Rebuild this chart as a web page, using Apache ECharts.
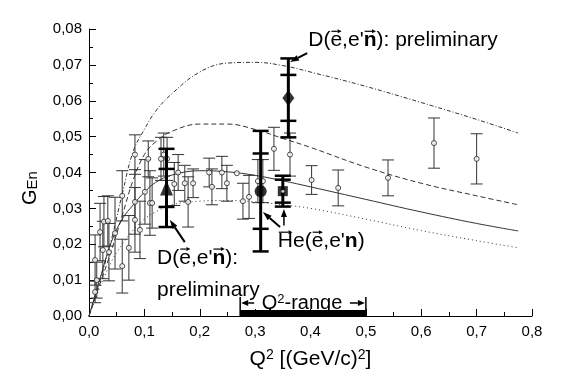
<!DOCTYPE html>
<html>
<head>
<meta charset="utf-8">
<script src="https://cdn.jsdelivr.net/npm/echarts@6/dist/echarts.min.js"></script>
<style>
  html, body { margin: 0; padding: 0; background: #fff; }
  #main { width: 567px; height: 382px; }
</style>
</head>
<body>
<div id="main"></div>
<script>
// theory curves, sampled on one Q2 grid
var q2Grid = [0, 0.02, 0.04, 0.06, 0.08, 0.1, 0.12, 0.15, 0.2, 0.25, 0.3, 0.35, 0.4, 0.5, 0.6, 0.7, 0.775];
var curveDashDot = [0, 0.010, 0.021, 0.034, 0.046, 0.052, 0.057, 0.062, 0.068, 0.0705, 0.0707, 0.0698, 0.068, 0.064, 0.0595, 0.0548, 0.051];
var curveDashed = [0, 0.009, 0.018, 0.028, 0.038, 0.045, 0.0485, 0.0515, 0.0535, 0.0535, 0.052, 0.0495, 0.047, 0.0415, 0.037, 0.0335, 0.031];
var curveSolid = [0, 0.0105, 0.0205, 0.027, 0.031, 0.0345, 0.0372, 0.0393, 0.0405, 0.0402, 0.0392, 0.0377, 0.036, 0.0325, 0.029, 0.0258, 0.0237];
var curveDotted = [0, 0.008, 0.015, 0.020, 0.024, 0.027, 0.029, 0.031, 0.032, 0.0322, 0.0318, 0.031, 0.030, 0.027, 0.0238, 0.021, 0.019];

// world data (open circles): Q2, GEn, error
var worldQ2 = [0.011, 0.014, 0.011, 0.020, 0.027, 0.034, 0.025, 0.036, 0.047, 0.060, 0.060, 0.072, 0.083, 0.083, 0.092,
  0.101, 0.110, 0.083, 0.107, 0.130, 0.135, 0.141, 0.114, 0.154, 0.161, 0.173, 0.188, 0.179, 0.217, 0.222,
  0.240, 0.249, 0.267, 0.278, 0.289, 0.305, 0.314, 0.334, 0.363, 0.402, 0.450, 0.540, 0.623, 0.700];
var worldG = [0.0067, 0.0100, 0.0156, 0.0234, 0.0263, 0.0265, 0.0184, 0.0178, 0.0231, 0.0139, 0.0335, 0.0190, 0.0318, 0.0268, 0.0240,
  0.0346, 0.0315, 0.0450, 0.0438, 0.0438, 0.0450, 0.0438, 0.0315, 0.0368, 0.0400, 0.0370, 0.0370, 0.0318, 0.0400, 0.0360,
  0.0400, 0.0370, 0.0398, 0.0320, 0.0332, 0.0376, 0.0376, 0.0466, 0.0450, 0.0379, 0.0357, 0.0385, 0.0482, 0.0438];
var worldErr = [0.003, 0.005, 0.007, 0.008, 0.007, 0.007, 0.008, 0.008, 0.010, 0.0075, 0.007, 0.009, 0.009, 0.009, 0.008,
  0.009, 0.009, 0.0055, 0.005, 0.006, 0.006, 0.006, 0.007, 0.006, 0.005, 0.005, 0.004, 0.007, 0.004, 0.005,
  0.0045, 0.005, 0, 0.005, 0.006, 0.006, 0.006, 0.006, 0.006, 0.004, 0.005, 0.005, 0.007, 0.007];

// new measurements: Q2, GEn, total error, statistical error
var dTriangle = [0.14, 0.0357, 0.0109, 0.0053];
var dCircle = [0.31, 0.0348, 0.0168, 0.0105];
var heSquare = [0.35, 0.0348, 0.0043, 0.0032];
var dDiamond = [0.36, 0.0608, 0.011, 0.0064];

var q2Range = [0.273, 0.5];

function pairs(xs, ys) {
  return xs.map(function (x, i) { return [x, ys[i]]; });
}

function curve(ys, type) {
  return {
    type: 'line', data: pairs(q2Grid, ys), smooth: 0.4, showSymbol: false, silent: true,
    lineStyle: { color: '#333', width: 1, type: type }, z: 2
  };
}

// thin error bars
function thinBars(params, api) {
  var x = api.value(0), y = api.value(1), e = api.value(2);
  if (!e) return null;
  var t = api.coord([x, y + e]), b = api.coord([x, y - e]);
  var st = { stroke: '#333', lineWidth: 1 };
  return { type: 'group', children: [
    { type: 'line', shape: { x1: t[0], y1: t[1], x2: b[0], y2: b[1] }, style: st },
    { type: 'line', shape: { x1: t[0] - 6, y1: t[1], x2: t[0] + 6, y2: t[1] }, style: st },
    { type: 'line', shape: { x1: b[0] - 6, y1: b[1], x2: b[0] + 6, y2: b[1] }, style: st }
  ] };
}

// thick error bars with caps at total and stat errors
function thickBars(params, api) {
  var x = api.value(0), y = api.value(1), e = api.value(2), s = api.value(3);
  var t = api.coord([x, y + e]), b = api.coord([x, y - e]);
  var ts = api.coord([x, y + s]), bs = api.coord([x, y - s]);
  var st = { stroke: '#000', lineWidth: 3 };
  function cap(p) { return { type: 'line', shape: { x1: p[0] - 8, y1: p[1], x2: p[0] + 8, y2: p[1] }, style: { stroke: '#000', lineWidth: 2.5 } }; }
  return { type: 'group', children: [
    { type: 'line', shape: { x1: t[0], y1: t[1], x2: b[0], y2: b[1] }, style: st },
    cap(t), cap(b), cap(ts), cap(bs)
  ] };
}

var worldData = worldQ2.map(function (x, i) { return [x, worldG[i], worldErr[i]]; });

var chart = echarts.init(document.getElementById('main'), null, { renderer: 'canvas' });

var option = {
  animation: false,
  backgroundColor: '#fff',
  textStyle: { fontFamily: 'Liberation Sans' },
  grid: { left: 89, right: 35, top: 29, bottom: 66 },
  xAxis: {
    type: 'value', min: 0, max: 0.8, interval: 0.1,
    axisLine: { lineStyle: { color: '#000', width: 1 } },
    axisTick: { inside: true, length: 7, lineStyle: { color: '#000' } },
    minorTick: { show: true, splitNumber: 2, length: 4, lineStyle: { color: '#000' } },
    splitLine: { show: false },
    axisLabel: {
      color: '#000', fontSize: 15, margin: 8,
      formatter: function (v) { return v.toFixed(1).replace('.', ','); }
    }
  },
  yAxis: {
    type: 'value', min: 0, max: 0.08, interval: 0.01,
    axisLine: { show: true, lineStyle: { color: '#000', width: 1 } },
    axisTick: { show: true, inside: true, length: 7, lineStyle: { color: '#000' } },
    minorTick: { show: true, splitNumber: 2, length: 4, lineStyle: { color: '#000' } },
    splitLine: { show: false },
    axisLabel: {
      color: '#000', fontSize: 15, margin: 7,
      formatter: function (v) { return v.toFixed(2).replace('.', ','); }
    }
  },
  series: [
    curve(curveDashDot, [4, 2, 1, 2]),
    curve(curveDashed, [5, 3]),
    curve(curveSolid, 'solid'),
    curve(curveDotted, [1, 3]),
    { type: 'custom', renderItem: thinBars, data: worldData, z: 3, silent: true },
    {
      type: 'scatter', data: worldData.map(function (d) { return [d[0], d[1]]; }),
      symbol: 'circle', symbolSize: 5, z: 4, silent: true,
      itemStyle: { color: '#fff', borderColor: '#222', borderWidth: 1 }
    },
    { type: 'custom', renderItem: thickBars, data: [dTriangle, dCircle, heSquare, dDiamond], z: 5, silent: true },
    { type: 'scatter', data: [dTriangle.slice(0, 2)], symbol: 'triangle', symbolSize: [13, 15], z: 6, silent: true, itemStyle: { color: '#000' } },
    { type: 'scatter', data: [dCircle.slice(0, 2)], symbol: 'circle', symbolSize: 12, z: 6, silent: true, itemStyle: { color: '#000' } },
    { type: 'scatter', data: [dDiamond.slice(0, 2)], symbol: 'diamond', symbolSize: [12, 16], z: 6, silent: true, itemStyle: { color: '#000' } },
    { type: 'scatter', data: [heSquare.slice(0, 2)], symbol: 'rect', symbolSize: 10, z: 6, silent: true, itemStyle: { color: '#000' } },
    { type: 'scatter', data: [heSquare.slice(0, 2)], symbol: 'circle', symbolSize: 3, z: 7, silent: true, itemStyle: { color: '#fff' } }
  ]
};
chart.setOption(option);

// annotations
function px(x, y) { return chart.convertToPixel({ gridIndex: 0 }, [x, y]); }

function arrow(p1, p2, head, lw, hw) {
  var dx = p2[0] - p1[0], dy = p2[1] - p1[1];
  var L = Math.sqrt(dx * dx + dy * dy), ux = dx / L, uy = dy / L;
  var h = head || 8, w = hw || 3;
  var bx = p2[0] - ux * h, by = p2[1] - uy * h;
  return [
    { type: 'line', shape: { x1: p1[0], y1: p1[1], x2: bx, y2: by }, style: { stroke: '#000', lineWidth: lw || 1.5 }, silent: true },
    { type: 'polygon', shape: { points: [[p2[0], p2[1]], [bx - uy * w, by + ux * w], [bx + uy * w, by - ux * w]] }, style: { fill: '#000' }, silent: true }
  ];
}

// text pieces laid out left to right; vec pieces get a small arrow on top
var mctx = document.createElement('canvas').getContext('2d');
function fontOf(size, bold) { return (bold ? 'bold ' : '') + size + 'px "Liberation Sans"'; }
function annot(p, parts, size) {
  var out = [], x = p[0];
  parts.forEach(function (pt) {
    var f = fontOf(size, pt.b);
    mctx.font = f;
    var w = mctx.measureText(pt.t).width;
    out.push({ type: 'text', x: x, y: p[1], silent: true,
      style: { text: pt.t, font: f, fill: '#000', align: 'left', verticalAlign: 'middle' } });
    if (pt.v) {
      var ay = p[1] - size * 0.42;
      out = out.concat(arrow([x + 1, ay], [x + w - 0.5, ay], 4, 1.2, 2));
    }
    x += w;
  });
  return out;
}

var g = [];
g = g.concat(annot(px(0.396, 0.0769), [{ t: 'D(' }, { t: 'e', v: 1 }, { t: ',e\'' }, { t: 'n', b: 1, v: 1 }, { t: '): preliminary' }], 21));
g = g.concat(arrow(px(0.394, 0.0733), px(0.363, 0.0708), 9, 2));
g = g.concat(annot(px(0.123, 0.0162), [{ t: 'D(' }, { t: 'e', v: 1 }, { t: ',e\'' }, { t: 'n', b: 1, v: 1 }, { t: '):' }], 21));
g = g.concat(annot(px(0.123, 0.0072), [{ t: 'preliminary' }], 21));
g = g.concat(arrow(px(0.173, 0.0206), px(0.146, 0.0268), 9, 2));
g = g.concat(annot(px(0.341, 0.0209), [{ t: 'H', v: 1 }, { t: 'e(' }, { t: 'e', v: 1 }, { t: ',e\'' }, { t: 'n', b: 1 }, { t: ')' }], 21));
g = g.concat(arrow(px(0.345, 0.0248), px(0.314, 0.0290), 9, 2));
g = g.concat(arrow(px(0.352, 0.0252), px(0.352, 0.0298), 8, 1.5));

// Q2 range bar
var r0 = px(q2Range[0], 0), r1 = px(q2Range[1], 0);
g.push({ type: 'rect', shape: { x: r0[0], y: r0[1] - 6, width: r1[0] - r0[0], height: 6 }, style: { fill: '#000' }, silent: true });
g.push({ type: 'line', shape: { x1: r0[0], y1: r0[1] - 19, x2: r0[0], y2: r0[1] }, style: { stroke: '#000', lineWidth: 1.5 } });
g.push({ type: 'line', shape: { x1: r1[0], y1: r1[1] - 19, x2: r1[0], y2: r1[1] }, style: { stroke: '#000', lineWidth: 1.5 } });
g = g.concat(arrow([r0[0] + 14, r0[1] - 13], [r0[0] + 1, r0[1] - 13], 7, 1.5));
g = g.concat(arrow([r1[0] - 16, r1[1] - 13], [r1[0] - 1, r1[1] - 13], 7, 1.5));
g.push({
  type: 'text', x: (r0[0] + r1[0]) / 2 - 1, y: r0[1] - 13, silent: true,
  style: {
    text: '{a|Q}{s|2}{a|-range}', align: 'center', verticalAlign: 'middle',
    rich: { a: { fontSize: 20, fontFamily: 'Liberation Sans', fill: '#000' }, s: { fontSize: 13, fontFamily: 'Liberation Sans', verticalAlign: 'top', fill: '#000' } }
  }
});

// axis titles
var xMid = px(0.4, 0);
g.push({
  type: 'text', x: xMid[0], y: 359, silent: true,
  style: {
    text: '{a|Q}{s|2}{a| [(GeV/c)}{s|2}{a|]}', align: 'center', verticalAlign: 'middle',
    rich: { a: { fontSize: 21, fontFamily: 'Liberation Sans', fill: '#000' }, s: { fontSize: 14, fontFamily: 'Liberation Sans', verticalAlign: 'top', fill: '#000' } }
  }
});
g.push({
  type: 'text', x: 30, y: 188, rotation: Math.PI / 2, silent: true,
  style: {
    text: '{a|G}{s|En}', align: 'center', verticalAlign: 'middle',
    rich: { a: { fontSize: 20, fontFamily: 'Liberation Sans', fill: '#000' }, s: { fontSize: 15, fontFamily: 'Liberation Sans', verticalAlign: 'bottom', fill: '#000' } }
  }
});

chart.setOption({ graphic: g });
</script>
</body>
</html>
